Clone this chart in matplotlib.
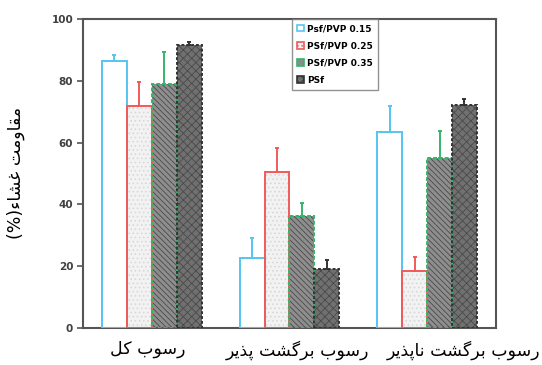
import numpy as np
import matplotlib
matplotlib.use('Agg')
from matplotlib import pyplot as plt
from matplotlib.patches import Patch
from matplotlib.transforms import ScaledTranslation

# presentation forms: (isolated, final, initial, medial); None = no joining to next letter
FORMS = {
    'ر': ('\uFEAD', '\uFEAE', None, None),
    'ذ': ('\uFEAB', '\uFEAC', None, None),
    'و': ('\uFEED', '\uFEEE', None, None),
    'ا': ('\uFE8D', '\uFE8E', None, None),
    'ء': ('\uFE80', None, None, None),
    'س': ('\uFEB1', '\uFEB2', '\uFEB3', '\uFEB4'),
    'ش': ('\uFEB5', '\uFEB6', '\uFEB7', '\uFEB8'),
    'ب': ('\uFE8F', '\uFE90', '\uFE91', '\uFE92'),
    'ت': ('\uFE95', '\uFE96', '\uFE97', '\uFE98'),
    'پ': ('\uFB56', '\uFB57', '\uFB58', '\uFB59'),
    'ک': ('\uFB8E', '\uFB8F', '\uFB90', '\uFB91'),
    'گ': ('\uFB92', '\uFB93', '\uFB94', '\uFB95'),
    'ل': ('\uFEDD', '\uFEDE', '\uFEDF', '\uFEE0'),
    'ن': ('\uFEE5', '\uFEE6', '\uFEE7', '\uFEE8'),
    'ی': ('\uFBFC', '\uFBFD', '\uFBFE', '\uFBFF'),
    'م': ('\uFEE1', '\uFEE2', '\uFEE3', '\uFEE4'),
    'ق': ('\uFED5', '\uFED6', '\uFED7', '\uFED8'),
    'غ': ('\uFECD', '\uFECE', '\uFECF', '\uFED0'),
}


def fa(text):
    # shape persian letters and return them in visual (left to right) order
    out = []
    for i, ch in enumerate(text):
        if ch not in FORMS:
            out.append(ch)
            continue
        prev = text[i - 1] if i > 0 else ''
        nxt = text[i + 1] if i + 1 < len(text) else ''
        j_prev = prev in FORMS and FORMS[prev][2] is not None and FORMS[ch][1] is not None
        j_next = FORMS[ch][2] is not None and nxt in FORMS and FORMS[nxt][1] is not None
        iso, fin, ini, med = FORMS[ch]
        if j_prev and j_next:
            out.append(med)
        elif j_prev:
            out.append(fin)
        elif j_next:
            out.append(ini)
        else:
            out.append(iso)
    return ''.join(out[::-1])


categories = ['رسوب کل', 'رسوب برگشت پذیر', 'رسوب برگشت ناپذیر']
series = ['Psf/PVP 0.15', 'PSf/PVP 0.25', 'PSf/PVP 0.35', 'PSf']
values = [
    [86.5, 22.8, 63.5],
    [72.0, 50.4, 18.3],
    [79.0, 36.4, 54.9],
    [91.5, 19.0, 72.2],
]
errors = [
    [2.0, 6.3, 8.4],
    [7.6, 7.9, 4.8],
    [10.4, 3.9, 8.8],
    [0.9, 2.9, 1.8],
]
yticks = [0, 20, 40, 60, 80, 100]

edge_colors = ['#55c5f2', '#f05a5a', '#35b46a', '#333333']
face_colors = ['white', '#f2f2f2', '#8e8e8e', '#707070']
hatch_colors = ['white', '#d6d6d6', '#4a4a4a', '#4a4a4a']
hatches = [None, '....', '\\\\\\\\\\\\', 'xxxx']
styles = ['-', '-', (0, (2, 1)), (0, (1.5, 1))]

plt.rcParams['hatch.linewidth'] = 0.6

fig = plt.figure(figsize=(5.42, 3.65), dpi=100)
ax = fig.add_axes([0.153, 0.1014, 0.762, 0.8466])

x = np.arange(len(categories))
w = 0.181
handles = []
for k in range(len(series)):
    pos = x + (k - 1.5) * w
    ax.bar(pos, values[k], w, color=face_colors[k], edgecolor=hatch_colors[k],
           hatch=hatches[k], linewidth=0, zorder=2)
    ax.bar(pos, values[k], w, color='none', edgecolor=edge_colors[k],
           linewidth=1.4, linestyle=styles[k], zorder=3)
    ax.errorbar(pos, values[k], yerr=[np.zeros(3), errors[k]], fmt='none',
                ecolor=edge_colors[k], elinewidth=1.4, capsize=1.5, capthick=1.4, zorder=4)
    handles.append(Patch(facecolor=face_colors[k], edgecolor=edge_colors[k],
                         hatch=hatches[k], linewidth=1.2))

ax.set_xlim(-0.5, 2.5)
ax.set_ylim(0, 100)
ax.set_yticks(yticks)
ax.tick_params(axis='y', length=4, width=1.2, color='#555555', labelsize=7.5,
               labelcolor='#404040', pad=3)
for t in ax.get_yticklabels():
    t.set_fontweight('bold')

ax.set_xticks(x)
ax.set_xticklabels([fa(c) for c in categories], fontsize=12.5, family='DejaVu Sans')
ax.tick_params(axis='x', length=0, pad=9)
shifts = [-4, 8, 36]
for t, dx in zip(ax.get_xticklabels(), shifts):
    t.set_transform(t.get_transform() + ScaledTranslation(dx / 100, 0, fig.dpi_scale_trans))

for s in ax.spines.values():
    s.set_color('#555555')
    s.set_linewidth(1.5)

ax.set_ylabel('(%)' + fa('مقاومت غشاء'), fontsize=12.5, family='DejaVu Sans')
ax.yaxis.set_label_coords(-0.14, 0.5)

leg = ax.legend(handles, series, loc='upper left', bbox_to_anchor=(0.506, 1.0),
                borderaxespad=0, fancybox=False, edgecolor='#777777',
                prop={'size': 6.5, 'weight': 'bold'}, handlelength=0.7,
                handleheight=0.7, handletextpad=0.4, labelspacing=0.9,
                borderpad=0.6)
leg.get_frame().set_linewidth(1.0)
leg.set_zorder(5)

fig.savefig('out.png', dpi=100)
